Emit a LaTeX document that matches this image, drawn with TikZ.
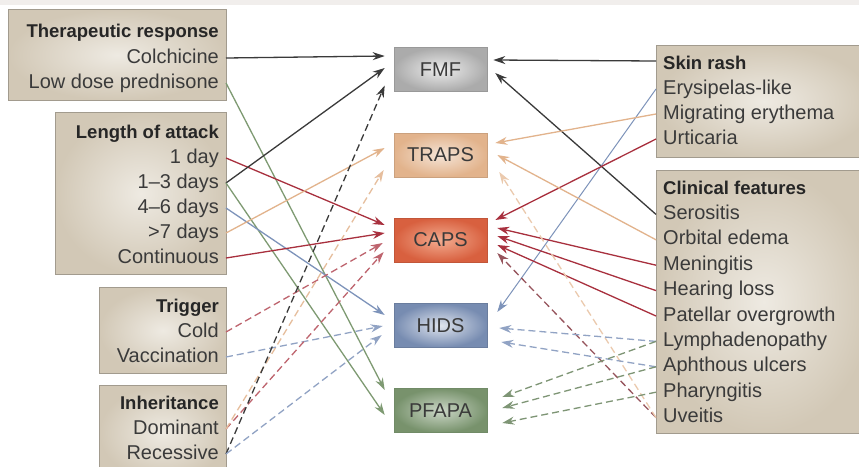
\documentclass[tikz,border=0pt]{standalone}
\usepackage{fontspec}
\setmainfont{Liberation Sans}
\usepackage{tikz}
\usetikzlibrary{positioning, calc, arrows.meta}

\definecolor{topband}{HTML}{F1EEEC}
\definecolor{panelin}{HTML}{EEEAE2}
\definecolor{panelout}{HTML}{D2C8B6}
\definecolor{panelline}{HTML}{A29B8E}
\definecolor{ink}{HTML}{3A3A3A}
\definecolor{fmfline}{HTML}{3A3A3A}
\definecolor{trapsline}{HTML}{E2B38C}
\definecolor{capsline}{HTML}{A8303E}
\definecolor{hidsline}{HTML}{7D93BA}
\definecolor{pfapaline}{HTML}{7E9A72}
\definecolor{capsin}{HTML}{F3AC90}
\definecolor{capsout}{HTML}{D8603F}

\tikzset{panel/.style={rectangle, draw=panelline, line width=0.8pt, inner color=panelin, outer color=panelout, inner sep=0pt}}
\tikzset{disease/.style={rectangle, minimum width=93pt, minimum height=44pt, line width=0.6pt, font=\fontsize{20}{24}\selectfont, text=ink}}
\tikzset{lefttext/.style={anchor=east, inner xsep=7pt, inner ysep=0pt, text height=14pt, text depth=4pt, font=\fontsize{20}{24}\selectfont, text=ink}}
\tikzset{righttext/.style={lefttext, anchor=west}}
\tikzset{head/.style={font=\fontsize{18.5}{24}\bfseries\selectfont, text=black!85}}
\tikzset{link/.style={line width=1.3pt, ->}}
\tikzset{dashlink/.style={link, dash pattern=on 7pt off 4pt}}

\begin{document}
\begin{tikzpicture}[x=1pt, y=-1pt, >={Stealth[length=12pt,width=8pt]}]

      \useasboundingbox (0,0) rectangle (859,466);
      \fill[white] (0,0) rectangle (859,466);
      \fill[topband] (0,0) rectangle (859,5);

      % PANELS

      \node[panel, anchor=north west, minimum width=218pt, minimum height=91pt] (ptherapy) at (8,9) {};
      \node[panel, anchor=north west, minimum width=171pt, minimum height=162pt] (pattack) at (55,112) {};
      \node[panel, anchor=north west, minimum width=127pt, minimum height=86pt] (ptrigger) at (99,287) {};
      \node[panel, anchor=north west, minimum width=127pt, minimum height=95pt] (pinherit) at (99,385) {};
      \node[panel, anchor=north west, minimum width=215pt, minimum height=112pt] (prash) at (656,45) {};
      \node[panel, anchor=north west, minimum width=215pt, minimum height=263pt] (pclinic) at (656,170) {};

      % DISEASES

      \node[disease, draw=black!40, inner color=black!7, outer color=black!33] (fmf) at (440.5,69.5) {FMF};
      \node[disease, draw=trapsline!90!black, inner color=trapsline!35!white, outer color=trapsline] (traps) at (440.5,155) {TRAPS};
      \node[disease, draw=capsout!90!black, inner color=capsin, outer color=capsout] (caps) at (440.5,240) {CAPS};
      \node[disease, draw=hidsline!85!black, inner color=hidsline!25!white, outer color=hidsline!95!black] (hids) at (440.5,325.5) {HIDS};
      \node[disease, draw=pfapaline!90!black, inner color=pfapaline!40!white, outer color=pfapaline!95!black] (pfapa) at (440.5,410.5) {PFAPA};

      % LABELS

      \node[lefttext, head] (therapy) at (226,32) {Therapeutic response};
      \node[lefttext] (colchicine) at (226,58) {Colchicine};
      \node[lefttext] (prednisone) at (226,83) {Low dose prednisone};

      \node[lefttext, head] (attack) at (226,133) {Length of attack};
      \node[lefttext] (oneday) at (226,158) {1 day};
      \node[lefttext] (onethree) at (226,183) {1--3 days};
      \node[lefttext] (foursix) at (226,208) {4--6 days};
      \node[lefttext] (overseven) at (226,233) {>7 days};
      \node[lefttext] (continuous) at (226,258) {Continuous};

      \node[lefttext, head] (trigger) at (226,307) {Trigger};
      \node[lefttext] (cold) at (226,332) {Cold};
      \node[lefttext] (vaccination) at (226,357) {Vaccination};

      \node[lefttext, head] (inherit) at (226,404) {Inheritance};
      \node[lefttext] (dominant) at (226,429) {Dominant};
      \node[lefttext] (recessive) at (226,454) {Recessive};

      \node[righttext, head] (skinrash) at (656,64) {Skin rash};
      \node[righttext] (erysipelas) at (656,89) {Erysipelas-like};
      \node[righttext] (migrating) at (656,114) {Migrating erythema};
      \node[righttext] (urticaria) at (656,139) {Urticaria};

      \node[righttext, head] (clinical) at (656,189) {Clinical features};
      \node[righttext] (serositis) at (656,214.4) {Serositis};
      \node[righttext] (orbital) at (656,239.8) {Orbital edema};
      \node[righttext] (meningitis) at (656,265.2) {Meningitis};
      \node[righttext] (hearing) at (656,290.6) {Hearing loss};
      \node[righttext] (patellar) at (656,316) {Patellar overgrowth};
      \node[righttext] (lymph) at (656,341.4) {Lymphadenopathy};
      \node[righttext] (aphthous) at (656,366.8) {Aphthous ulcers};
      \node[righttext] (pharyngitis) at (656,392.2) {Pharyngitis};
      \node[righttext] (uveitis) at (656,417.6) {Uveitis};

      % ARCS (LEFT)

      \draw[link, fmfline] ($(colchicine.east)$) -- ($(fmf.west)+(-9,-13.5)$);
      \draw[link, pfapaline] ($(prednisone.east)$) -- ($(pfapa.west)+(-9,-20.5)$);
      \draw[link, capsline] ($(oneday.east)$) -- ($(caps.west)+(-9,-15)$);
      \draw[link, fmfline] ($(onethree.east)$) -- ($(fmf.west)+(-9,-1.5)$);
      \draw[link, pfapaline] ($(onethree.east)$) -- ($(pfapa.west)+(-9,4.5)$);
      \draw[link, hidsline] ($(foursix.east)$) -- ($(hids.west)+(-9,-10.5)$);
      \draw[link, trapsline] ($(overseven.east)$) -- ($(traps.west)+(-9,-7)$);
      \draw[link, capsline] ($(continuous.east)$) -- ($(caps.west)+(-9,-7)$);
      \draw[dashlink, capsline!75!white] ($(cold.east)$) -- ($(caps.west)+(-11,3)$);
      \draw[dashlink, hidsline!85!white] ($(vaccination.east)$) -- ($(hids.west)+(-11,0.5)$);
      \draw[dashlink, capsline!75!white] ($(dominant.east)$) -- ($(caps.west)+(-10,12)$);
      \draw[dashlink, trapsline!85!white] ($(dominant.east)$) -- ($(traps.west)+(-10,15)$);
      \draw[dashlink, fmfline] ($(recessive.east)$) -- ($(fmf.west)+(-9,16)$);
      \draw[dashlink, hidsline!85!white] ($(recessive.east)$) -- ($(hids.west)+(-12,9.5)$);

      % ARCS (RIGHT)

      \draw[link, fmfline] ($(skinrash.west)+(0,-3)$) -- ($(fmf.east)+(6,-9.5)$);
      \draw[link, fmfline] ($(serositis.west)$) -- ($(fmf.east)+(8,3.5)$);
      \draw[link, hidsline, line width=1pt] ($(erysipelas.west)$) -- ($(hids.east)+(10,-13.5)$);
      \draw[link, trapsline] ($(migrating.west)$) -- ($(traps.east)+(8,-12)$);
      \draw[link, capsline] ($(urticaria.west)$) -- ($(caps.east)+(8,-20)$);
      \draw[link, trapsline] ($(orbital.west)$) -- ($(traps.east)+(10,0)$);
      \draw[link, capsline] ($(meningitis.west)$) -- ($(caps.east)+(10,-12)$);
      \draw[link, capsline] ($(hearing.west)$) -- ($(caps.east)+(10,-4)$);
      \draw[link, capsline] ($(patellar.west)$) -- ($(caps.east)+(10,5)$);
      \draw[dashlink, capsline!55!gray] ($(uveitis.west)$) -- ($(caps.east)+(10,13)$);
      \draw[dashlink, trapsline!70!white] ($(uveitis.west)$) -- ($(traps.east)+(12,17)$);
      \draw[dashlink, hidsline!85!white] ($(lymph.west)$) -- ($(hids.east)+(12,2.5)$);
      \draw[dashlink, hidsline!85!white] ($(aphthous.west)$) -- ($(hids.east)+(14,16.5)$);
      \draw[dashlink, pfapaline!80!gray] ($(lymph.west)$) -- ($(pfapa.east)+(15,-13.5)$);
      \draw[dashlink, pfapaline!80!gray] ($(aphthous.west)$) -- ($(pfapa.east)+(15,-2.5)$);
      \draw[dashlink, pfapaline!80!gray] ($(pharyngitis.west)$) -- ($(pfapa.east)+(15,12.5)$);

\end{tikzpicture}
\end{document}
